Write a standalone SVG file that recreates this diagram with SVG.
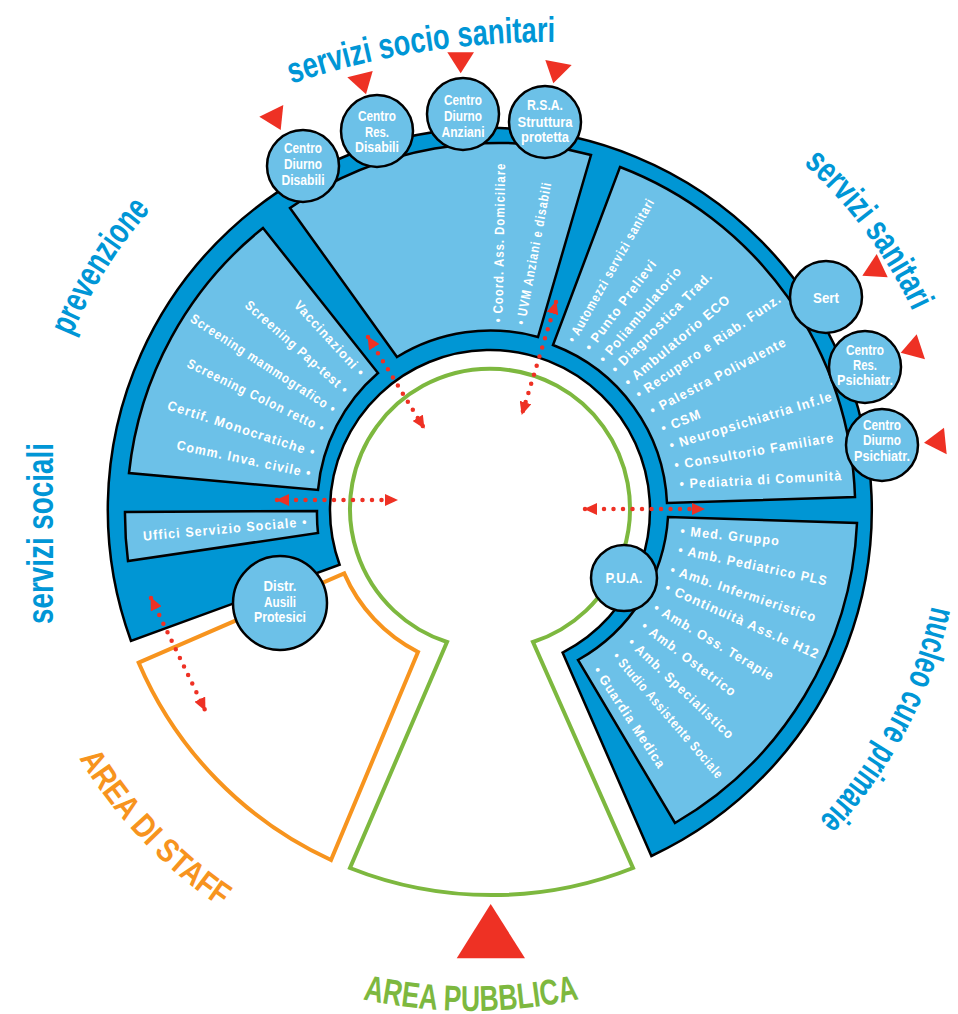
<svg xmlns="http://www.w3.org/2000/svg" width="958" height="1014" viewBox="0 0 958 1014">
<style>
.ring{fill:#0096d4;stroke:#000;stroke-width:2.5}
.sec{fill:#6cc1e8;stroke:#000;stroke-width:2.5}
.node circle{fill:#6cc1e8;stroke:#000;stroke-width:2.5}
.node text{fill:#fff;font-family:"Liberation Sans Narrow","Liberation Sans",Arial,sans-serif;font-weight:bold;font-size:14.5px;text-anchor:middle}
.lbl{fill:#fff;font-family:"Liberation Sans Narrow","Liberation Sans",Arial,sans-serif;font-weight:bold;font-size:13.5px;letter-spacing:1.2px}
.title{font-family:"Liberation Sans Narrow","Liberation Sans",Arial,sans-serif;font-weight:bold;font-size:36px}
.blue{fill:#0096d6}
.tri{fill:#ee3124}
.conn line{stroke:#ee3124;stroke-width:4.5;stroke-linecap:round;stroke-dasharray:0 9.5;marker-start:url(#ah);marker-end:url(#ah)}
</style>
<defs>
<marker id="ah" viewBox="0 0 13 12" refX="12" refY="6" markerWidth="13" markerHeight="12" markerUnits="userSpaceOnUse" orient="auto-start-reverse"><path d="M0,0L13,6L0,12Z" fill="#ee3124"/></marker>
<path id="pT1" d="M156.3,143.3 A808,808 0 0 1 702.2,56.9" fill="none"/>
<path id="pT2" d="M676.2,81.7 A467,467 0 0 1 954,457.1" fill="none"/>
<path id="pT3" d="M941.7,492.6 A452,452 0 0 1 730.9,892.5" fill="none"/>
<path id="pT4" d="M37.3,494.2 A453,453 0 0 1 277.3,110" fill="none"/>
<path id="pT5" d="M53,624 L53,443" fill="none"/>
<path id="pT6" d="M34.8,662.3 A480,480 0 0 0 314.1,956.6" fill="none"/>
<path id="pT7" d="M221,944 A500,500 0 0 0 721,944" fill="none"/>
</defs>

<g id="area-pubblica">
<path d="M447,642 A140,140 0 1 1 533,642 L633,868 A383,383 0 0 1 350,868 Z" fill="none" stroke="#7db83f" stroke-width="4"/>
</g>
<g id="area-staff">
<path d="M138.7,662.7 L344.2,573.4 A159,159 0 0 0 418,652 L331,860 A383,383 0 0 1 138.7,662.7 Z" fill="none" stroke="#f7941e" stroke-width="4"/>
</g>
<g id="ring">
<path class="ring" d="M131,641 A382,382 0 1 1 651.4,856 L562.6,652.6 A160,160 0 1 0 339.6,564.7 Z"/>
</g>

<g id="sector-prevenzione">
<path class="sec" d="M129,473 A363,363 0 0 1 263,228 L378,373 A175,175 0 0 0 318,490 Z"/>
<g class="lbl" text-anchor="end">
<text transform="translate(361,373) rotate(47.5)" x="2.5" y="4.5" textLength="98" lengthAdjust="spacingAndGlyphs">Vaccinazioni •</text>
<text transform="translate(345,390) rotate(41.5)" x="2.5" y="4.5" textLength="133.5" lengthAdjust="spacingAndGlyphs">Screening Pap-test •</text>
<text transform="translate(333,409) rotate(33)" x="2.5" y="4.5" textLength="171" lengthAdjust="spacingAndGlyphs">Screening mammografico •</text>
<text transform="translate(322,428) rotate(26)" x="2.5" y="4.5" textLength="151.5" lengthAdjust="spacingAndGlyphs">Screening Colon retto •</text>
<text transform="translate(313,452) rotate(18)" x="2.5" y="4.5" textLength="155" lengthAdjust="spacingAndGlyphs">Certif. Monocratiche •</text>
<text transform="translate(309,473) rotate(12)" x="2.5" y="4.5" textLength="137.5" lengthAdjust="spacingAndGlyphs">Comm. Inva. civile •</text>
</g>
</g>

<g id="sector-sociali">
<path class="sec" d="M128,561 A365,365 0 0 1 125,512 L317,511 A173,173 0 0 0 318,533 Z"/>
<text class="lbl" text-anchor="end" transform="translate(305,522) rotate(-5)" x="2.5" y="4.5" textLength="165" lengthAdjust="spacingAndGlyphs">Uffici Servizio Sociale •</text>
</g>

<g id="sector-sociosanitari">
<path class="sec" d="M290,208 A366,366 0 0 1 591,155 L538,337 A178,178 0 0 0 397,357 Z"/>
<g class="lbl">
<text transform="translate(498,320) rotate(-89)" x="-2.5" y="4.5" textLength="160" lengthAdjust="spacingAndGlyphs">• Coord. Ass. Domiciliare</text>
<text transform="translate(521,322) rotate(-79.5)" x="-2.5" y="4.5" textLength="145" lengthAdjust="spacingAndGlyphs">• UVM Anziani e disabili</text>
</g>
</g>

<g id="sector-sanitari">
<path class="sec" d="M620,167 A366,366 0 0 1 855,497 L667,503 A177,177 0 0 0 553,345 Z"/>
<g class="lbl">
<text transform="translate(572,339) rotate(-60.5)" x="-2.5" y="4.5" textLength="163" lengthAdjust="spacingAndGlyphs">• Automezzi servizi sanitari</text>
<text transform="translate(589,347) rotate(-53)" x="-2.5" y="4.5" textLength="110.5" lengthAdjust="spacingAndGlyphs">• Punto Prelievi</text>
<text transform="translate(603,359) rotate(-50)" x="-2.5" y="4.5" textLength="121" lengthAdjust="spacingAndGlyphs">• Poliambulatorio</text>
<text transform="translate(615,369) rotate(-45)" x="-2.5" y="4.5" textLength="137.5" lengthAdjust="spacingAndGlyphs">• Diagnostica Trad.</text>
<text transform="translate(628,382) rotate(-40)" x="-2.5" y="4.5" textLength="134" lengthAdjust="spacingAndGlyphs">• Ambulatorio ECO</text>
<text transform="translate(639,394) rotate(-34.5)" x="-2.5" y="4.5" textLength="173.5" lengthAdjust="spacingAndGlyphs">• Recupero e Riab. Funz.</text>
<text transform="translate(653,410) rotate(-27.5)" x="-2.5" y="4.5" textLength="152" lengthAdjust="spacingAndGlyphs">• Palestra Polivalente</text>
<text transform="translate(664,428) rotate(-22)" x="-2.5" y="4.5" textLength="42" lengthAdjust="spacingAndGlyphs">• CSM</text>
<text transform="translate(672,445) rotate(-17)" x="-2.5" y="4.5" textLength="170" lengthAdjust="spacingAndGlyphs">• Neuropsichiatria Inf.le</text>
<text transform="translate(677,465) rotate(-10)" x="-2.5" y="4.5" textLength="162" lengthAdjust="spacingAndGlyphs">• Consultorio Familiare</text>
<text transform="translate(682,484) rotate(-3)" x="-2.5" y="4.5" textLength="163" lengthAdjust="spacingAndGlyphs">• Pediatria di Comunità</text>
</g>
</g>

<g id="sector-nucleo">
<path class="sec" d="M857,523 A366,366 0 0 1 675,823 L578,660 A176,176 0 0 0 668,517 Z"/>
<g class="lbl">
<text transform="translate(683,531) rotate(6)" x="-2.5" y="4.5" textLength="100" lengthAdjust="spacingAndGlyphs">• Med. Gruppo</text>
<text transform="translate(681,550) rotate(12)" x="-2.5" y="4.5" textLength="152.5" lengthAdjust="spacingAndGlyphs">• Amb. Pediatrico PLS</text>
<text transform="translate(673,570) rotate(18.5)" x="-2.5" y="4.5" textLength="153.5" lengthAdjust="spacingAndGlyphs">• Amb. Infermieristico</text>
<text transform="translate(668,588) rotate(24)" x="-2.5" y="4.5" textLength="167.5" lengthAdjust="spacingAndGlyphs">• Continuità Ass.le H12</text>
<text transform="translate(657,608) rotate(30.8)" x="-2.5" y="4.5" textLength="138" lengthAdjust="spacingAndGlyphs">• Amb. Oss. Terapie</text>
<text transform="translate(645,626) rotate(37)" x="-2.5" y="4.5" textLength="115" lengthAdjust="spacingAndGlyphs">• Amb. Ostetrico</text>
<text transform="translate(632,642) rotate(43.5)" x="-2.5" y="4.5" textLength="140.5" lengthAdjust="spacingAndGlyphs">• Amb. Specialistico</text>
<text transform="translate(617,656) rotate(49.3)" x="-2.5" y="4.5" textLength="162" lengthAdjust="spacingAndGlyphs">• Studio Assistente Sociale</text>
<text transform="translate(598,670) rotate(56.5)" x="-2.5" y="4.5" textLength="119.5" lengthAdjust="spacingAndGlyphs">• Guardia Medica</text>
</g>
</g>

<g id="connectors" class="conn">
<line x1="368" y1="337" x2="424" y2="428"/>
<line x1="556" y1="302" x2="522" y2="414"/>
<line x1="277" y1="500" x2="397" y2="500"/>
<line x1="585" y1="509" x2="704" y2="509"/>
<line x1="151" y1="598" x2="205" y2="710"/>
</g>

<g id="n-centro-diurno-disabili" class="node">
<circle cx="303" cy="166" r="36"/>
<text x="303" y="153" textLength="38" lengthAdjust="spacingAndGlyphs">Centro</text><text x="303" y="169" textLength="38" lengthAdjust="spacingAndGlyphs">Diurno</text><text x="303" y="185" textLength="43" lengthAdjust="spacingAndGlyphs">Disabili</text>
</g>
<g id="n-centro-res-disabili" class="node">
<circle cx="377" cy="131" r="36"/>
<text x="377" y="121" textLength="38" lengthAdjust="spacingAndGlyphs">Centro</text><text x="377" y="136.5" textLength="24" lengthAdjust="spacingAndGlyphs">Res.</text><text x="377" y="152" textLength="44" lengthAdjust="spacingAndGlyphs">Disabili</text>
</g>
<g id="n-centro-diurno-anziani" class="node">
<circle cx="463" cy="114" r="36"/>
<text x="463" y="105" textLength="38" lengthAdjust="spacingAndGlyphs">Centro</text><text x="463" y="120.5" textLength="38" lengthAdjust="spacingAndGlyphs">Diurno</text><text x="463" y="136.5" textLength="43" lengthAdjust="spacingAndGlyphs">Anziani</text>
</g>
<g id="n-rsa" class="node">
<circle cx="545" cy="122" r="36"/>
<text x="545" y="110" textLength="36" lengthAdjust="spacingAndGlyphs">R.S.A.</text><text x="545" y="126.5" textLength="55" lengthAdjust="spacingAndGlyphs">Struttura</text><text x="545" y="141.5" textLength="48" lengthAdjust="spacingAndGlyphs">protetta</text>
</g>
<g id="n-sert" class="node">
<circle cx="826" cy="297" r="36"/>
<text x="826" y="302.5" style="font-size:15px" textLength="26" lengthAdjust="spacingAndGlyphs">Sert</text>
</g>
<g id="n-centro-res-psichiatr" class="node">
<circle cx="865" cy="367" r="36"/>
<text x="865" y="355" textLength="38" lengthAdjust="spacingAndGlyphs">Centro</text><text x="865" y="370" textLength="24" lengthAdjust="spacingAndGlyphs">Res.</text><text x="865" y="385" textLength="56" lengthAdjust="spacingAndGlyphs">Psichiatr.</text>
</g>
<g id="n-centro-diurno-psichiatr" class="node">
<circle cx="882" cy="445" r="36"/>
<text x="882" y="430" textLength="38" lengthAdjust="spacingAndGlyphs">Centro</text><text x="882" y="445" textLength="38" lengthAdjust="spacingAndGlyphs">Diurno</text><text x="882" y="461" textLength="56" lengthAdjust="spacingAndGlyphs">Psichiatr.</text>
</g>
<g id="n-pua" class="node">
<circle cx="624" cy="578" r="33"/>
<text x="624" y="583" style="font-size:15px" textLength="37" lengthAdjust="spacingAndGlyphs">P.U.A.</text>
</g>
<g id="n-distr-ausili" class="node">
<circle cx="280" cy="603" r="47"/>
<text x="280" y="591" style="font-size:15.5px" textLength="33" lengthAdjust="spacingAndGlyphs">Distr.</text><text x="280" y="606.5" style="font-size:15.5px" textLength="32" lengthAdjust="spacingAndGlyphs">Ausili</text><text x="280" y="622" style="font-size:15.5px" textLength="52" lengthAdjust="spacingAndGlyphs">Protesici</text>
</g>

<g id="markers-red">
<polygon class="tri" points="259.3,116.7 283.3,105 280.7,130"/>
<polygon class="tri" points="347.3,77.3 372.7,71 366,94.3"/>
<polygon class="tri" points="447.3,52.3 474,52.3 460.7,73.3"/>
<polygon class="tri" points="545.3,60 571.7,65 553.3,83.3"/>
<polygon class="tri" points="862.3,275.7 876.7,254 887.7,277.3"/>
<polygon class="tri" points="900.7,352.7 916.7,334.3 925,359.3"/>
<polygon class="tri" points="924,442.7 944,427.7 946.7,454.3"/>
<polygon class="tri" points="490.7,904 456.7,958.3 525,958.3"/>
</g>

<g id="titles">
<text class="title blue"><textPath href="#pT1" startOffset="50%" text-anchor="middle" textLength="268" lengthAdjust="spacingAndGlyphs">servizi socio sanitari</textPath></text>
<text class="title blue"><textPath href="#pT2" startOffset="50%" text-anchor="middle" textLength="185" lengthAdjust="spacingAndGlyphs">servizi sanitari</textPath></text>
<text class="title blue"><textPath href="#pT3" startOffset="50%" text-anchor="middle" textLength="245" lengthAdjust="spacingAndGlyphs">nucleo cure primarie</textPath></text>
<text class="title blue"><textPath href="#pT4" startOffset="50%" text-anchor="middle" textLength="150" lengthAdjust="spacingAndGlyphs">prevenzione</textPath></text>
<text class="title blue"><textPath href="#pT5" startOffset="0" textLength="181" lengthAdjust="spacingAndGlyphs">servizi sociali</textPath></text>
<text class="title" fill="#f7941e" style="font-size:33px"><textPath href="#pT6" startOffset="50%" text-anchor="middle" textLength="207" lengthAdjust="spacingAndGlyphs">AREA DI STAFF</textPath></text>
<text class="title" fill="#7db83f"><textPath href="#pT7" startOffset="50%" text-anchor="middle" textLength="218" lengthAdjust="spacingAndGlyphs">AREA PUBBLICA</textPath></text>
</g>
</svg>
